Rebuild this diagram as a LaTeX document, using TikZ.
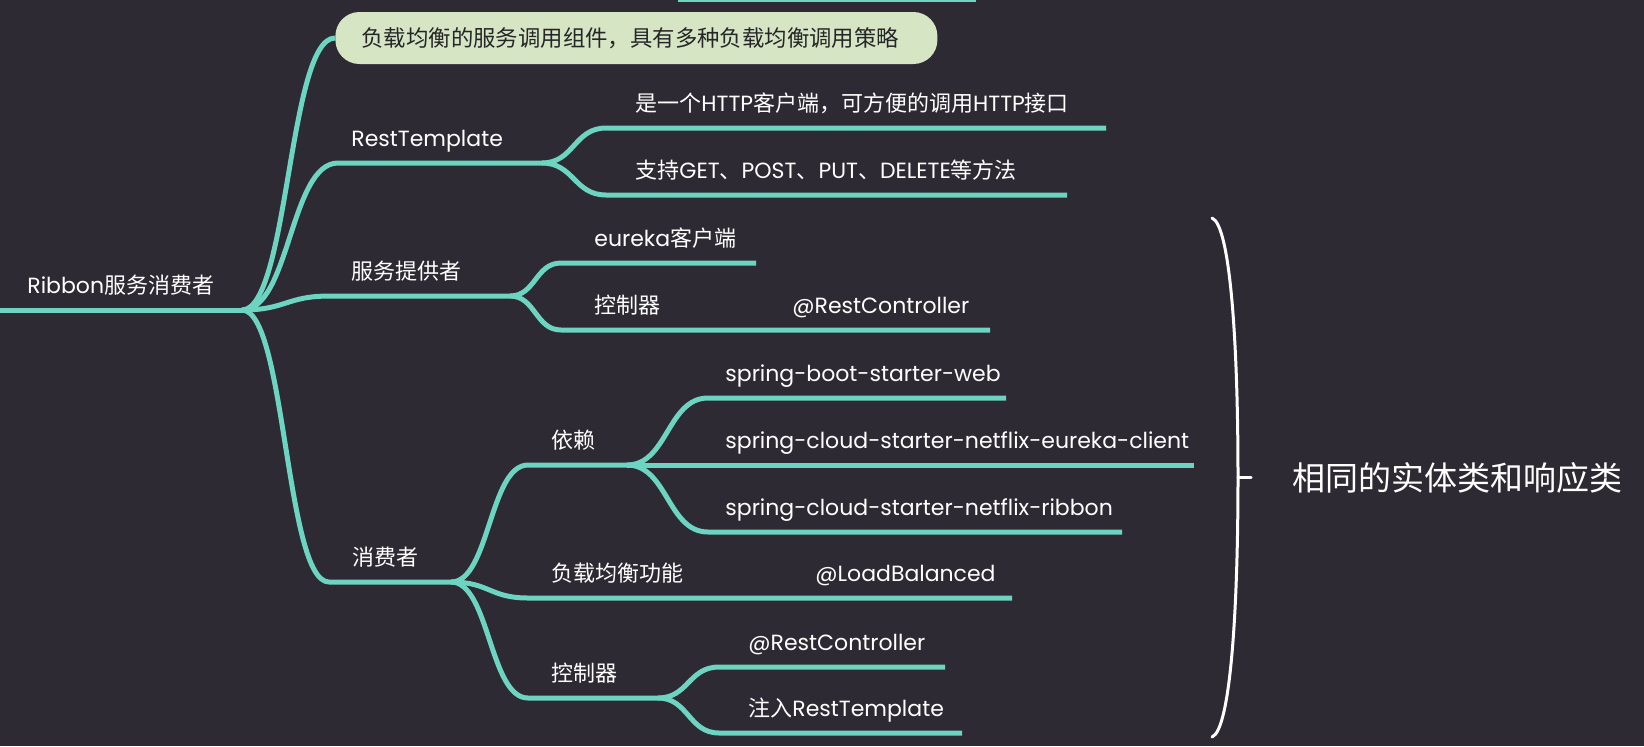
\documentclass[tikz,border=0pt]{standalone}
\usepackage{fontspec}
\setmainfont{Poppins}
\newfontfamily\zhfont{Noto Sans CJK SC}
\newcommand\zh[1]{{\zhfont #1}}
\usetikzlibrary{calc}

\definecolor{bgdark}{RGB}{46,42,51}
\definecolor{mapteal}{RGB}{108,212,192}
\definecolor{boxgreen}{RGB}{214,230,196}
\definecolor{boxtext}{RGB}{38,38,40}

\begin{document}
\begin{tikzpicture}[x=0.5pt,y=-0.5pt,
  branch/.style={draw=mapteal,line width=2.5pt,line join=round},
  curvy/.style={to path={let \p1=(\tikztostart),\p2=(\tikztotarget) in
    .. controls ({(\x1+\x2)/2},\y1) and ({(\x1+\x2)/2},\y2) .. (\tikztotarget)}},
  topic/.style={anchor=base west,inner sep=0pt,text=white,font=\fontsize{11pt}{13pt}\selectfont},
  note/.style={anchor=west,fill=boxgreen,text=boxtext,rounded corners=12pt,
    text width=275pt,align=left,minimum height=26pt,inner xsep=13pt,inner ysep=0pt,
    font=\fontsize{11.2pt}{13pt}\selectfont},
  bracket/.style={draw=white,line width=1.5pt,line cap=round}]

  \useasboundingbox (0,0) rectangle (1644,746);
  \fill[bgdark] (0,0) rectangle (1644,746);

  % branch points
  \coordinate (top-a) at (678,-1);
  \coordinate (top-b) at (976,-1);
  \coordinate (root-s) at (0,310);
  \coordinate (root-j) at (242,310);
  \coordinate (rest-s) at (338,163);
  \coordinate (rest-j) at (542,163);
  \coordinate (http-s) at (606,128);
  \coordinate (http-e) at (1106,128);
  \coordinate (verb-s) at (606,195);
  \coordinate (verb-e) at (1067,195);
  \coordinate (prov-s) at (330,296);
  \coordinate (prov-j) at (510,296);
  \coordinate (eur-s) at (561,263);
  \coordinate (eur-e) at (756,263);
  \coordinate (pctl-s) at (561,330);
  \coordinate (pctl-e) at (990,330);
  \coordinate (cons-s) at (329,582);
  \coordinate (cons-j) at (451,582);
  \coordinate (dep-s) at (528,465);
  \coordinate (dep-j) at (627,465);
  \coordinate (web-s) at (708,398);
  \coordinate (web-e) at (1006,398);
  \coordinate (ecl-e) at (1194,465);
  \coordinate (rib-s) at (708,532);
  \coordinate (rib-e) at (1122,532);
  \coordinate (lb-s) at (528,598);
  \coordinate (lb-e) at (1012,598);
  \coordinate (cctl-s) at (528,698);
  \coordinate (cctl-j) at (658,698);
  \coordinate (rc-s) at (719,667);
  \coordinate (rc-e) at (945,667);
  \coordinate (inj-s) at (719,733);
  \coordinate (inj-e) at (962,733);
  \coordinate (br-top) at (1212,218);
  \coordinate (br-mid) at (1238,477);
  \coordinate (br-tip) at (1251,477);
  \coordinate (br-bot) at (1212,737);

  % labels
  \node[topic] (root) at (27,293) {Ribbon\zh{服务消费者}};
  \node[note] (desc) at (335,38) {\zh{负载均衡的服务调用组件，具有多种负载均衡调用策略}};
  \node[topic] (rest) at (351,146) {RestTemplate};
  \node[topic] (http) at (635,111) {\zh{是一个}HTTP\zh{客户端，可方便的调用}HTTP\zh{接口}};
  \node[topic] (verb) at (635,178) {\zh{支持}GET\zh{、}POST\zh{、}PUT\zh{、}DELETE\zh{等方法}};
  \node[topic] (prov) at (351,279) {\zh{服务提供者}};
  \node[topic] (eur) at (594,246) {eureka\zh{客户端}};
  \node[topic] (pctl) at (594,313) {\zh{控制器}};
  \node[topic] (pann) at (792,313) {@RestController};
  \node[topic] (cons) at (352,565) {\zh{消费者}};
  \node[topic] (dep) at (551,448) {\zh{依赖}};
  \node[topic] (web) at (725,381) {spring-boot-starter-web};
  \node[topic] (ecl) at (725,448) {spring-cloud-starter-netflix-eureka-client};
  \node[topic] (rib) at (725,515) {spring-cloud-starter-netflix-ribbon};
  \node[topic] (lb) at (551,581) {\zh{负载均衡功能}};
  \node[topic] (lbann) at (815,581) {@LoadBalanced};
  \node[topic] (cctl) at (551,681) {\zh{控制器}};
  \node[topic] (rc) at (748,650) {@RestController};
  \node[topic] (inj) at (748,716) {\zh{注入}RestTemplate};
  \node[anchor=west,inner sep=0pt,text=white,font=\fontsize{16.5pt}{19pt}\selectfont] (same) at (1292,478) {\zh{相同的实体类和响应类}};

  % branches
  \draw[branch] (top-a) -- (top-b);
  \draw[branch] (root-s) -- (root-j);
  \draw[branch] (root-j) to[curvy] (desc.west);
  \draw[branch] (root-j) to[curvy] (rest-s) -- (rest-j);
  \draw[branch] (rest-j) to[curvy] (http-s) -- (http-e);
  \draw[branch] (rest-j) to[curvy] (verb-s) -- (verb-e);
  \draw[branch] (root-j) to[curvy] (prov-s) -- (prov-j);
  \draw[branch] (prov-j) to[curvy] (eur-s) -- (eur-e);
  \draw[branch] (prov-j) to[curvy] (pctl-s) -- (pctl-e);
  \draw[branch] (root-j) to[curvy] (cons-s) -- (cons-j);
  \draw[branch] (cons-j) to[curvy] (dep-s) -- (dep-j);
  \draw[branch] (dep-j) to[curvy] (web-s) -- (web-e);
  \draw[branch] (dep-j) -- (ecl-e);
  \draw[branch] (dep-j) to[curvy] (rib-s) -- (rib-e);
  \draw[branch] (cons-j) to[curvy] (lb-s) -- (lb-e);
  \draw[branch] (cons-j) to[curvy] (cctl-s) -- (cctl-j);
  \draw[branch] (cctl-j) to[curvy] (rc-s) -- (rc-e);
  \draw[branch] (cctl-j) to[curvy] (inj-s) -- (inj-e);

  % bracket
  \draw[bracket] (br-top) .. controls (1230,225) and (1238,340) .. (br-mid)
    .. controls (1238,615) and (1230,730) .. (br-bot);
  \draw[bracket] (br-mid) -- (br-tip);
\end{tikzpicture}
\end{document}
